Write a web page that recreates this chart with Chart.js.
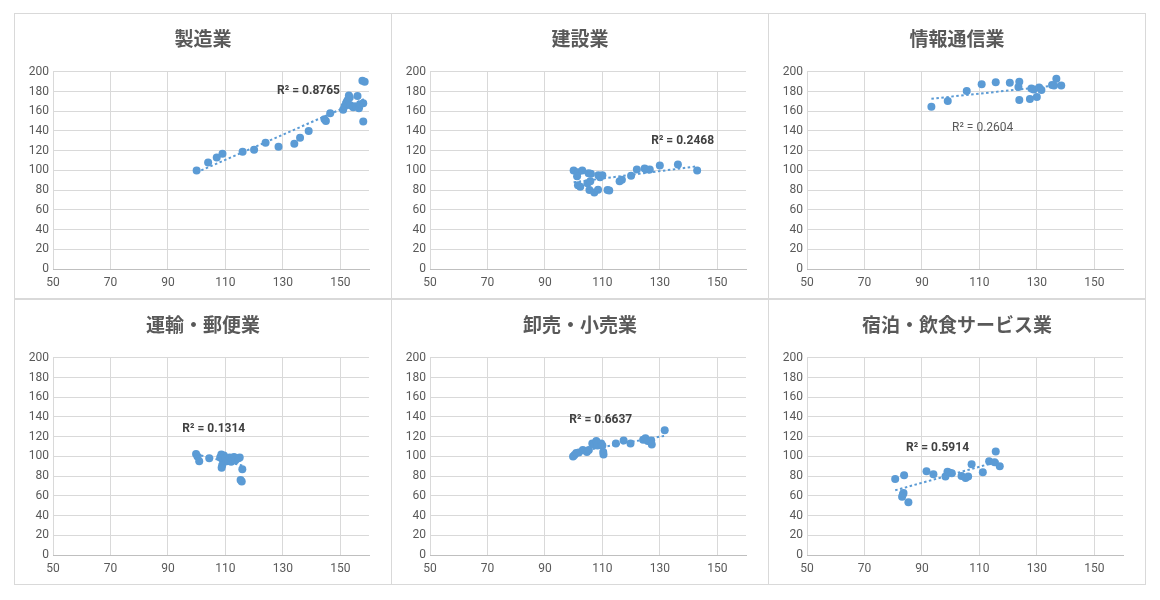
<!DOCTYPE html>
<html>
<head>
<meta charset="utf-8">
<script src="https://cdn.jsdelivr.net/npm/chart.js@4.4.1/dist/chart.umd.min.js"></script>
<style>
  body { margin: 0; background: #fff; }
  #wrap { position: absolute; left: 14px; top: 13px; width: 1132px; height: 572px; }
  .panel { position: absolute; width: 378px; height: 286px; border: 1px solid #d9d9d9; box-sizing: border-box; background: #fff; }
</style>
</head>
<body>
<div id="wrap"></div>
<script>
const titles = ['製造業', '建設業', '情報通信業', '運輸・郵便業', '卸売・小売業', '宿泊・飲食サービス業'];
const xTicks = [50, 70, 90, 110, 130, 150];

const seizoX = [100, 104, 107, 109, 116, 120, 124, 128.5, 134, 136, 139, 144.5, 145, 146.5, 151, 151.5, 152, 152.3, 152.7, 153, 153.3, 153.5, 154.5, 155.5, 156, 156.5, 157, 158, 158, 157.7, 158.5];
const seizoY = [100, 108, 113, 117, 119, 121, 128, 124, 127, 133, 140, 152, 150, 158, 161.5, 165, 168, 170, 172, 176, 174, 166, 164, 165, 175.5, 163, 167, 168, 149.5, 191, 190];

const kensetsuX = [100, 101.5, 101.2, 101.5, 102.3, 103, 105.2, 106, 104.8, 105.8, 105.5, 107.2, 108.5, 108.6, 109.2, 110, 111.8, 112.4, 116, 116.8, 120, 122, 124.7, 125.2, 126.5, 130, 136.3, 143];
const kensetsuY = [100, 98, 94, 85, 83.5, 100, 97, 96.5, 87, 89, 80, 77.5, 80.5, 95, 93, 95, 80, 79.5, 89, 90.5, 94.5, 101, 102, 101, 101, 105, 106, 100];

const johoX = [93.3, 99, 105.6, 110.8, 115.7, 120.6, 123.9, 123.6, 123.9, 127.6, 128.1, 128.9, 130, 130.8, 131.6, 135.3, 136, 136.8, 138.5];
const johoY = [164.5, 170.5, 180.5, 187.5, 189.5, 189, 190, 184.5, 171.5, 172.5, 183, 182, 174.5, 184, 181.5, 186.5, 186, 193, 186];

const unyuX = [99.8, 100.3, 100.9, 104.4, 108.2, 108.6, 109, 108.7, 108.9, 109.5, 110, 110.5, 111, 111.5, 112, 112.5, 113, 113.5, 114.5, 115, 115.9, 115.3, 115.7];
const unyuY = [102.5, 100, 95, 98, 99, 102, 97, 88.5, 91, 101, 98.5, 95, 96, 99, 94.5, 97, 99.5, 96, 98, 99, 87, 76, 74.5];

const oroshiX = [99.8, 100.3, 100.9, 101.8, 103.2, 104.6, 105.3, 106.5, 107.2, 107.9, 108.3, 109.6, 110, 110.3, 110.4, 114.7, 117.4, 119.8, 124.2, 125, 125.8, 127, 127.2, 131.7];
const oroshiY = [100, 101.5, 103.5, 104, 106.5, 104.5, 106.5, 113, 112, 115.5, 111, 113, 111, 104.5, 102, 113, 116, 113, 117, 118.5, 115.5, 116, 112, 126.5];

const shukuhakuX = [80.7, 83.8, 83.4, 83.6, 83.1, 85.3, 91.6, 94, 98.2, 98.9, 99.7, 100.4, 103.8, 105.2, 106.1, 107.3, 111.2, 113.4, 115.3, 115.7, 117.1];
const shukuhakuY = [77, 81, 61.5, 63, 59, 53.5, 85, 82, 79.5, 84.5, 83.5, 83, 80, 78, 79.5, 92, 84, 95, 94, 105, 90];

const r2Text = ['R² = 0.8765', 'R² = 0.2468', 'R² = 0.2604', 'R² = 0.1314', 'R² = 0.6637', 'R² = 0.5914'];

const allX = [seizoX, kensetsuX, johoX, unyuX, oroshiX, shukuhakuX];
const allY = [seizoY, kensetsuY, johoY, unyuY, oroshiY, shukuhakuY];

// where the R² label sits (left edge, middle), in data units
const labelAt = [[128, 181], [127, 130], [100.5, 143], [95, 128], [98.5, 137], [84.5, 109]];
const labelBold = [true, true, false, true, true, true];

const blue = '#5B9BD5';
const grey = '#595959';

// least squares line over the x range of the data
function trend(xs, ys) {
  const n = xs.length;
  let sx = 0, sy = 0, sxx = 0, sxy = 0;
  for (let i = 0; i < n; i++) {
    sx += xs[i]; sy += ys[i]; sxx += xs[i] * xs[i]; sxy += xs[i] * ys[i];
  }
  const b = (n * sxy - sx * sy) / (n * sxx - sx * sx);
  const a = (sy - b * sx) / n;
  const lo = Math.min(...xs), hi = Math.max(...xs);
  return [{x: lo, y: a + b * lo}, {x: hi, y: a + b * hi}];
}

const r2Plugin = {
  id: 'r2',
  afterDatasetsDraw(chart, args, opts) {
    const {ctx, scales: {x, y}} = chart;
    ctx.save();
    ctx.font = (opts.bold ? 'bold ' : '') + '12px Roboto, "Noto Sans"';
    ctx.fillStyle = opts.bold ? '#404040' : grey;
    ctx.textBaseline = 'middle';
    ctx.fillText(opts.text, x.getPixelForValue(opts.at[0]), y.getPixelForValue(opts.at[1]));
    ctx.restore();
  }
};

const wrap = document.getElementById('wrap');
const lefts = [0, 377, 754];
const tops = [0, 286];

titles.forEach((t, i) => {
  const div = document.createElement('div');
  div.className = 'panel';
  div.style.left = lefts[i % 3] + 'px';
  div.style.top = tops[Math.floor(i / 3)] + 'px';
  const cv = document.createElement('canvas');
  cv.width = 376;
  cv.height = 284;
  div.appendChild(cv);
  wrap.appendChild(div);

  const pts = allX[i].map((v, k) => ({x: v, y: allY[i][k]}));

  new Chart(cv.getContext('2d'), {
    type: 'scatter',
    data: {
      datasets: [{
        data: pts,
        backgroundColor: blue,
        borderWidth: 0,
        pointRadius: 4
      }, {
        type: 'line',
        data: trend(allX[i], allY[i]),
        borderColor: blue,
        borderWidth: 2,
        borderDash: [2.5, 2.5],
        pointRadius: 0,
        fill: false
      }]
    },
    options: {
      responsive: false,
      animation: false,
      layout: { padding: 0 },
      plugins: {
        legend: { display: false },
        tooltip: { enabled: false },
        title: {
          display: true,
          text: t,
          color: grey,
          font: { family: '"Noto Sans CJK JP"', size: 19, weight: 'bold' },
          padding: { top: 13, bottom: 22 }
        },
        r2: { text: r2Text[i], at: labelAt[i], bold: labelBold[i] }
      },
      scales: {
        x: {
          type: 'linear',
          min: 50,
          max: 160,
          afterBuildTicks: a => { a.ticks = xTicks.map(v => ({value: v})); },
          afterFit: a => { a.height = 29; },
          grid: { color: '#d9d9d9', drawTicks: false },
          border: { color: '#bfbfbf' },
          ticks: { color: grey, font: { family: 'Roboto', size: 12 }, padding: 7, maxRotation: 0 }
        },
        y: {
          min: 0,
          max: 200,
          afterFit: a => { a.width = 38; },
          grid: { color: '#d9d9d9', drawTicks: false },
          border: { display: false },
          ticks: { stepSize: 20, color: grey, font: { family: 'Roboto', size: 12 }, padding: 4 }
        },
        // empty strip on the right, keeps the plot off the panel edge
        gap: {
          position: 'right',
          display: true,
          afterFit: a => { a.width = 22; },
          grid: { display: false },
          border: { display: false },
          ticks: { display: false }
        }
      }
    },
    plugins: [r2Plugin]
  });
});
</script>
</body>
</html>
